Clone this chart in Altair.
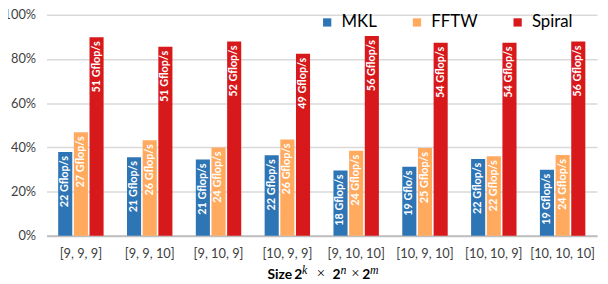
import altair as alt
import pandas as pd

categories = ["[9, 9, 9]", "[9, 9, 10]", "[9, 10, 9]", "[10, 9, 9]",
              "[9, 10, 10]", "[10, 9, 10]", "[10, 10, 9]", "[10, 10, 10]"]
series = ["MKL", "FFTW", "Spiral"]
colors = ["#2E75B6", "#FFAA5E", "#D7191C"]

mkl = [37.9, 35.6, 34.5, 36.4, 29.5, 31.3, 34.8, 29.9]
fftw = [46.8, 43.2, 39.9, 43.6, 38.5, 39.7, 36.0, 36.6]
spiral = [89.8, 85.5, 87.9, 82.4, 90.4, 87.3, 87.4, 87.9]

mkl_lbl = ["22 Gflop/s", "21 Gflop/s", "21 Gflop/s", "22 Gflop/s",
           "18 Gflop/s", "19 Gflo/s", "22 Gflop/s", "19 Gflop/s"]
fftw_lbl = ["27 Gflop/s", "26 Gflop/s", "24 Gflop/s", "26 Gflop/s",
            "24 Gflop/s", "25 Gflop/s", "22 Gflop/s", "24 Gflop/s"]
spiral_lbl = ["51 Gflop/s", "51 Gflop/s", "52 Gflop/s", "49 Gflop/s",
              "56 Gflop/s", "54 Gflop/s", "54 Gflop/s", "56 Gflop/s"]

y_ticks = [0, 20, 40, 60, 80, 100]

# x-axis title pieces: "Size 2^k × 2^n × 2^m"
title_bold = ["Size", "2", "2", "2"]
title_sup = ["k", "n", "m"]
title_times = ["×", "×"]

rows = []
for s, vals, lbls in zip(series, [mkl, fftw, spiral], [mkl_lbl, fftw_lbl, spiral_lbl]):
    for c, v, l in zip(categories, vals, lbls):
        rows.append({"size": c, "lib": s, "value": v, "label": l})
df = pd.DataFrame(rows)
one = pd.DataFrame({"k": [0]})

FONT = "Lato"

x = alt.X("size:N", sort=categories,
          scale=alt.Scale(paddingInner=0.34, paddingOuter=0.17),
          axis=alt.Axis(title=None, labelAngle=0, ticks=False,
                        labelFont=FONT, labelFontSize=13, labelColor="#404040",
                        labelPadding=12, domainColor="#BFBFBF", domainWidth=2))
xo = alt.XOffset("lib:N", sort=series, scale=alt.Scale(paddingInner=0.1, paddingOuter=0))
y = alt.Y("value:Q", scale=alt.Scale(domain=[0, 100]),
          axis=alt.Axis(title=None, values=y_ticks, labelExpr="datum.value + '%'",
                        ticks=False, domain=False, gridColor="#D9D9D9", gridWidth=1.5,
                        labelFont=FONT, labelFontSize=13, labelColor="#404040",
                        labelPadding=11))

bars = alt.Chart(df).mark_bar().encode(
    x=x, xOffset=xo, y=y,
    color=alt.Color("lib:N", sort=series,
                    scale=alt.Scale(domain=series, range=colors),
                    legend=alt.Legend(title=None, orient="none", direction="horizontal",
                                      legendX=276, legendY=-1, symbolType="square",
                                      symbolSize=70, symbolStrokeWidth=0,
                                      labelFont=FONT, labelFontSize=17,
                                      labelColor="#000000", columnPadding=32,
                                      labelOffset=6)),
)

texts = alt.Chart(df).mark_text(angle=270, align="right", baseline="middle",
                                dx=-4, color="white", font=FONT, fontSize=11,
                                fontWeight="bold").encode(
    x=alt.X("size:N", sort=categories), xOffset=alt.XOffset("lib:N", sort=series),
    y="value:Q", text="label:N")

TY = 268
layers = [bars, texts]
for t, px in zip(title_bold, [224, 251, 290, 320]):
    layers.append(alt.Chart(one).mark_text(text=t, align="left", baseline="alphabetic",
                                           font=FONT, fontSize=14, fontWeight="bold",
                                           color="#000000")
                  .encode(x=alt.value(px), y=alt.value(TY)))
for t, px in zip(title_sup, [259, 298, 328]):
    layers.append(alt.Chart(one).mark_text(text=t, align="left", baseline="alphabetic",
                                           font="Liberation Serif", fontSize=12,
                                           fontStyle="italic", color="#000000")
                  .encode(x=alt.value(px), y=alt.value(TY - 5)))
for t, px in zip(title_times, [274, 309]):
    layers.append(alt.Chart(one).mark_text(text=t, align="left", baseline="alphabetic",
                                           font="Liberation Serif", fontSize=15,
                                           color="#000000")
                  .encode(x=alt.value(px), y=alt.value(TY - 1)))

chart = alt.layer(*layers).properties(
    width=558, height=224,
    padding={"left": 39, "top": 5, "right": 3, "bottom": 50},
    autosize=alt.AutoSizeParams(type="none"),
).configure_view(stroke=None)

chart.save("out.html", embed_options={"renderer": "svg", "actions": False})
